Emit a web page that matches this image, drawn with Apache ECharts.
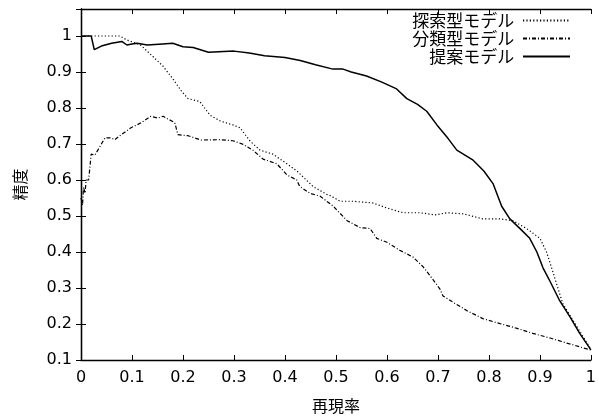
<!DOCTYPE html>
<html>
<head>
<meta charset="utf-8">
<script src="https://cdn.jsdelivr.net/npm/echarts@6/dist/echarts.min.js"></script>
<style>html,body{margin:0;padding:0;background:#fff}#c{width:599px;height:419px}</style>
</head>
<body>
<div id="c"></div>
<script>
const seriesNames = ['探索型モデル', '分類型モデル', '提案モデル'];
const xTickLabels = ['0','0.1','0.2','0.3','0.4','0.5','0.6','0.7','0.8','0.9','1'];

// 探索型モデル (dotted)
const searchRecall = [0, 0.04, 0.076, 0.09, 0.116, 0.141, 0.161, 0.18, 0.198, 0.21, 0.233, 0.253, 0.273, 0.298, 0.312, 0.331, 0.351, 0.376, 0.404, 0.425, 0.455, 0.482, 0.49, 0.508, 0.533, 0.573, 0.6, 0.632, 0.665, 0.694, 0.718, 0.75, 0.788, 0.822, 0.847, 0.874, 0.9, 0.913, 0.923, 0.933, 0.945, 0.965, 0.984, 1];
const searchPrec   = [1, 1, 1, 0.989, 0.976, 0.943, 0.916, 0.881, 0.845, 0.826, 0.818, 0.78, 0.764, 0.753, 0.745, 0.709, 0.683, 0.672, 0.645, 0.623, 0.582, 0.56, 0.556, 0.541, 0.541, 0.536, 0.522, 0.509, 0.509, 0.503, 0.509, 0.506, 0.492, 0.492, 0.487, 0.465, 0.438, 0.40, 0.356, 0.31, 0.256, 0.21, 0.166, 0.13];

// 分類型モデル (dash-dot)
const classRecall = [0, 0.003, 0.005, 0.008, 0.01, 0.015, 0.02, 0.027, 0.033, 0.047, 0.059, 0.066, 0.079, 0.098, 0.118, 0.137, 0.151, 0.161, 0.184, 0.19, 0.21, 0.235, 0.273, 0.298, 0.318, 0.337, 0.357, 0.384, 0.404, 0.423, 0.429, 0.449, 0.469, 0.494, 0.522, 0.547, 0.567, 0.58, 0.6, 0.625, 0.651, 0.671, 0.69, 0.704, 0.71, 0.729, 0.757, 0.788, 0.822, 0.855, 0.886, 0.92, 0.953, 0.984, 1];
const classPrec   = [0.55, 0.53, 0.58, 0.563, 0.60, 0.60, 0.672, 0.669, 0.683, 0.717, 0.717, 0.712, 0.726, 0.745, 0.759, 0.777, 0.772, 0.777, 0.759, 0.726, 0.723, 0.711, 0.712, 0.709, 0.699, 0.683, 0.658, 0.645, 0.614, 0.600, 0.582, 0.563, 0.555, 0.528, 0.487, 0.468, 0.465, 0.438, 0.427, 0.405, 0.386, 0.359, 0.324, 0.297, 0.278, 0.261, 0.237, 0.215, 0.201, 0.188, 0.174, 0.161, 0.147, 0.134, 0.128];

// 提案モデル (solid)
const propRecall = [0, 0.02, 0.026, 0.04, 0.06, 0.08, 0.09, 0.1, 0.11, 0.13, 0.16, 0.18, 0.2, 0.22, 0.25, 0.28, 0.3, 0.33, 0.36, 0.4, 0.43, 0.46, 0.494, 0.514, 0.53, 0.56, 0.59, 0.619, 0.639, 0.66, 0.678, 0.698, 0.72, 0.737, 0.769, 0.79, 0.808, 0.825, 0.841, 0.861, 0.88, 0.894, 0.906, 0.92, 0.939, 0.959, 0.978, 1];
const propPrec   = [1, 1, 0.962, 0.972, 0.98, 0.985, 0.975, 0.978, 0.98, 0.975, 0.978, 0.98, 0.97, 0.968, 0.955, 0.957, 0.958, 0.953, 0.945, 0.94, 0.932, 0.92, 0.908, 0.908, 0.9, 0.889, 0.872, 0.853, 0.826, 0.81, 0.791, 0.753, 0.715, 0.683, 0.655, 0.625, 0.59, 0.527, 0.492, 0.465, 0.438, 0.40, 0.356, 0.318, 0.264, 0.22, 0.174, 0.128];

function pairs(xs, ys) { return xs.map((x, i) => [x, ys[i]]); }

const numFont = 'DejaVu Sans';
const cjkFont = 'Noto Sans CJK JP';
const tickCommon = { show: true, inside: true, length: 5, lineStyle: { color: '#000', width: 1 } };
const lineCommon = { show: true, lineStyle: { color: '#000', width: 1.3 } };

const chart = echarts.init(document.getElementById('c'), null, { renderer: 'canvas' });
chart.setOption({
  animation: false,
  backgroundColor: '#fff',
  grid: { left: 81, right: 8, top: 9, bottom: 52, containLabel: false },
  legend: {
    data: seriesNames.map(n => ({ name: n, icon: 'inherit' })),
    orient: 'vertical',
    align: 'right',
    right: 23,
    top: 7,
    itemWidth: 47,
    itemHeight: 18,
    itemGap: 1,
    itemStyle: { opacity: 0 },
    formatter: (n) => n + ' ',
    textStyle: { fontFamily: cjkFont, fontSize: 17, color: '#000' }
  },
  xAxis: [{
    type: 'value', min: 0, max: 1, interval: 0.1,
    name: '再現率', nameLocation: 'middle', nameGap: 38,
    nameTextStyle: { fontFamily: cjkFont, fontSize: 16, color: '#000' },
    axisLine: lineCommon, axisTick: tickCommon, splitLine: { show: false },
    axisLabel: { fontFamily: numFont, fontSize: 16, color: '#000', margin: 10,
      formatter: (v) => xTickLabels[Math.round(v * 10)] }
  }, {
    type: 'value', min: 0, max: 1, interval: 0.1, position: 'top',
    axisLine: lineCommon, axisTick: tickCommon, splitLine: { show: false },
    axisLabel: { show: false }
  }],
  yAxis: [{
    type: 'value', min: 0.1, max: 1.075, interval: 0.1,
    name: '精度', nameLocation: 'middle', nameGap: 53, nameRotate: 90,
    nameTextStyle: { fontFamily: cjkFont, fontSize: 16, color: '#000' },
    axisLine: lineCommon, axisTick: tickCommon, splitLine: { show: false },
    axisLabel: { fontFamily: numFont, fontSize: 16, color: '#000', margin: 9,
      showMaxLabel: false,
      formatter: (v) => (Math.round(v * 10) / 10).toString() }
  }, {
    type: 'value', min: 0.1, max: 1.075, interval: 0.1, position: 'right',
    axisLine: lineCommon, axisTick: tickCommon, splitLine: { show: false },
    axisLabel: { show: false }
  }],
  series: [
    { name: seriesNames[0], type: 'line', symbol: 'none', data: pairs(searchRecall, searchPrec),
      lineStyle: { color: '#000', width: 1.2, type: [1.2, 2.2] }, itemStyle: { color: '#000' } },
    { name: seriesNames[1], type: 'line', symbol: 'none', data: pairs(classRecall, classPrec),
      lineStyle: { color: '#000', width: 1.2, type: [4, 2, 1, 2] }, itemStyle: { color: '#000' } },
    { name: seriesNames[2], type: 'line', symbol: 'none', data: pairs(propRecall, propPrec),
      lineStyle: { color: '#000', width: 1.5, type: 'solid' }, itemStyle: { color: '#000' } }
  ]
});
</script>
</body>
</html>
